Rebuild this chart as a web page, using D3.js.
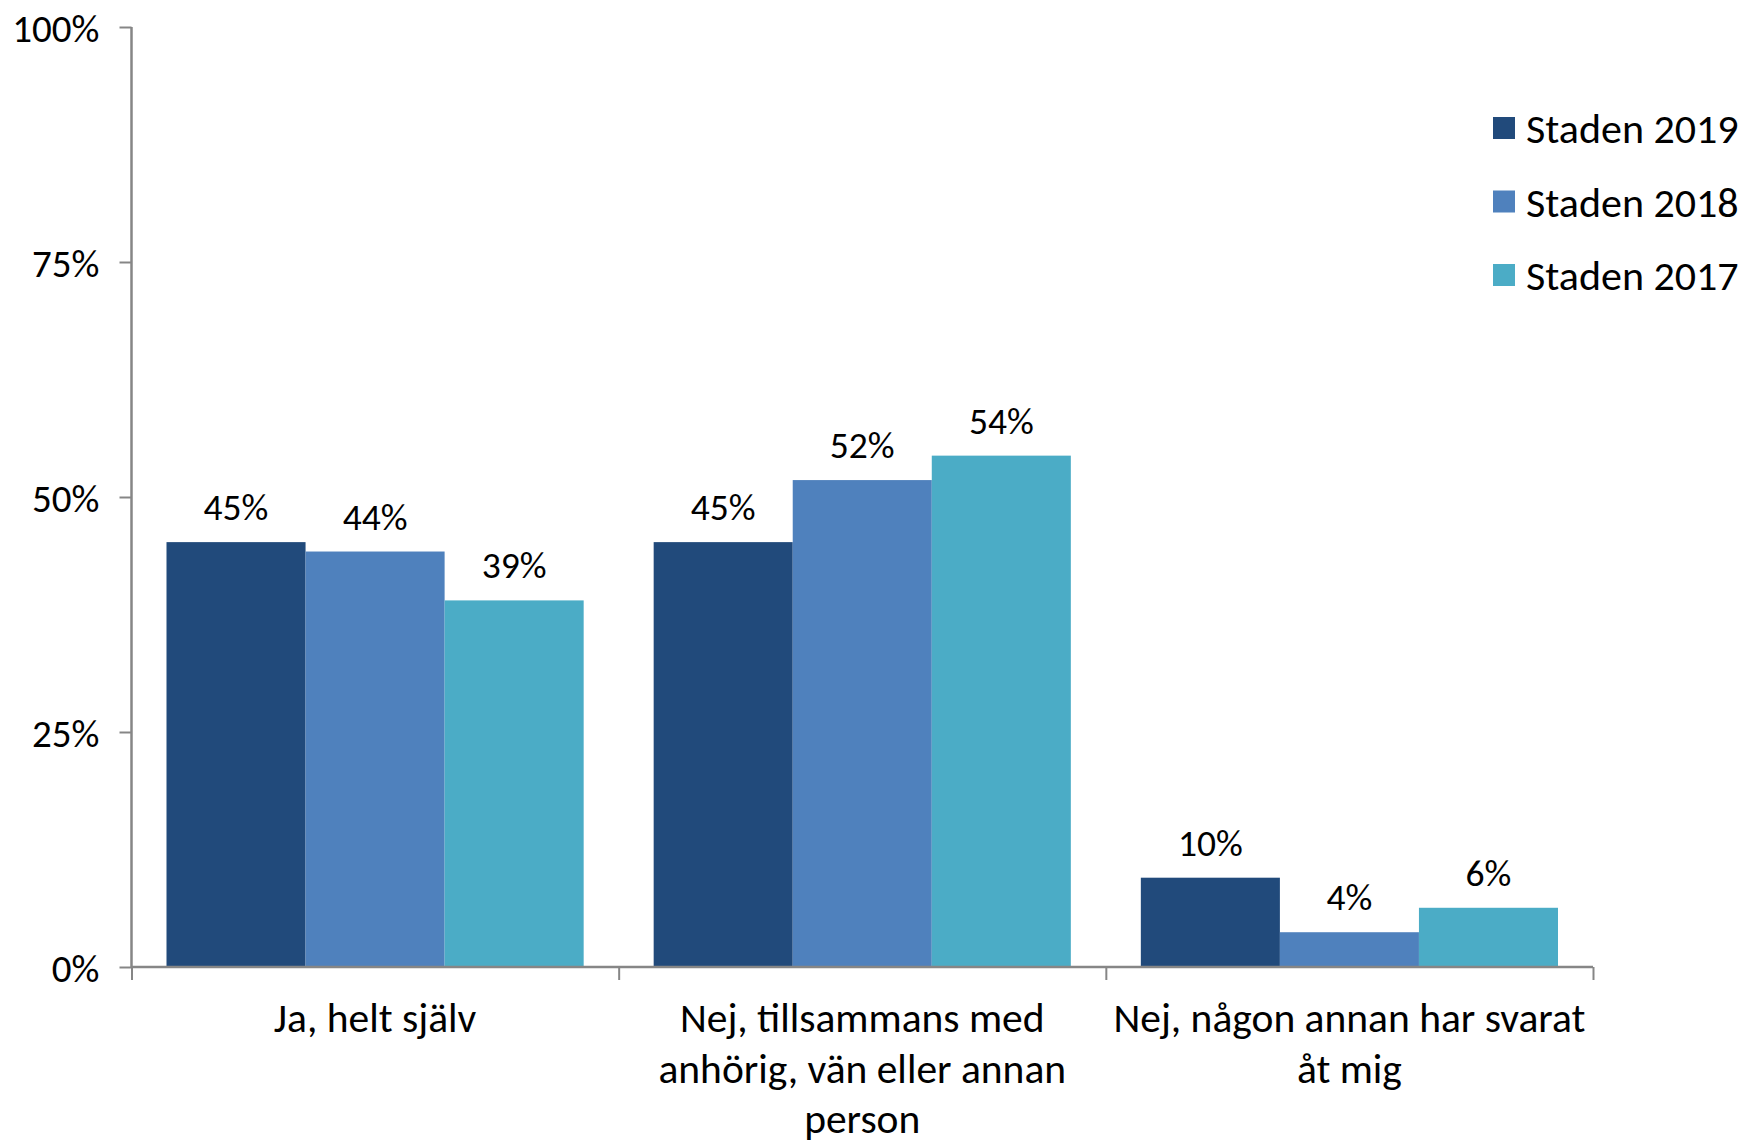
<!DOCTYPE html>
<html>
<head>
<meta charset="utf-8">
<script src="https://cdn.jsdelivr.net/npm/d3@7"></script>
<style>
  body { margin: 0; background: #fff; }
  text { font-family: Carlito, Calibri, Lato, sans-serif; fill: #000; }
</style>
</head>
<body>
<div id="chart"></div>
<script>
// data
var categories = ["Ja, helt själv", "Nej, tillsammans med anhörig, vän eller annan person", "Nej, någon annan har svarat åt mig"];
var seriesNames = ["Staden 2019", "Staden 2018", "Staden 2017"];
var staden2019 = [45.2, 45.2, 9.5];
var staden2018 = [44.2, 51.8, 3.7];
var staden2017 = [39.0, 54.4, 6.3];
var labels2019 = ["45%", "45%", "10%"];
var labels2018 = ["44%", "52%", "4%"];
var labels2017 = ["39%", "54%", "6%"];
var yTicks = [0, 25, 50, 75, 100];

var colors = ["#214a7b", "#4f81bd", "#4bacc6"];

// svg size
var svgWidth = 1747;
var svgHeight = 1145;

var margin = { top: 27, left: 131.5, right: 154, bottom: 178 };
var chartWidth = svgWidth - margin.left - margin.right;
var chartHeight = svgHeight - margin.top - margin.bottom;

var svg = d3.select("#chart").append("svg")
    .attr("width", svgWidth)
    .attr("height", svgHeight);

var chartGroup = svg.append("g")
    .attr("transform", `translate(${margin.left}, ${margin.top})`);

// scales
var x0 = d3.scaleBand()
    .domain(categories)
    .range([0, chartWidth])
    .padding(0);

var x1 = d3.scaleBand()
    .domain(seriesNames)
    .range([35, x0.bandwidth() - 35])
    .padding(0);

var yScale = d3.scaleLinear()
    .domain([0, 100])
    .range([chartHeight, 0]);

// rows for each category
var rows = categories.map(function(c, i) {
    return {
        cat: c,
        values: [
            { name: seriesNames[0], value: staden2019[i], label: labels2019[i], color: colors[0] },
            { name: seriesNames[1], value: staden2018[i], label: labels2018[i], color: colors[1] },
            { name: seriesNames[2], value: staden2017[i], label: labels2017[i], color: colors[2] }
        ]
    };
});

// bars
var groups = chartGroup.selectAll(".group").data(rows).enter()
    .append("g")
    .attr("class", "group")
    .attr("transform", d => `translate(${x0(d.cat)}, 0)`);

groups.selectAll("rect").data(d => d.values).enter()
    .append("rect")
    .attr("x", d => x1(d.name))
    .attr("y", d => yScale(d.value))
    .attr("width", x1.bandwidth())
    .attr("height", d => chartHeight - yScale(d.value))
    .attr("fill", d => d.color);

groups.selectAll(".val").data(d => d.values).enter()
    .append("text")
    .attr("class", "val")
    .attr("x", d => x1(d.name) + x1.bandwidth() / 2)
    .attr("y", d => yScale(d.value) - 22)
    .attr("text-anchor", "middle")
    .attr("font-size", "37.5px")
    .text(d => d.label);

// y axis
var yAxis = d3.axisLeft(yScale)
    .tickValues(yTicks)
    .tickFormat(d => d + "%")
    .tickSize(12)
    .tickPadding(20);

var yG = chartGroup.append("g").call(yAxis);
yG.selectAll("text").attr("font-size", "39px").attr("font-family", null).attr("dy", "0.36em");

// x axis: ticks at category boundaries
var xEdges = d3.scaleLinear().domain([0, categories.length]).range([0, chartWidth]);
var xAxis = d3.axisBottom(xEdges)
    .tickValues(d3.range(categories.length + 1))
    .tickFormat("")
    .tickSize(13);

var xG = chartGroup.append("g")
    .attr("transform", `translate(0, ${chartHeight})`)
    .call(xAxis);

[yG, xG].forEach(function(g) {
    g.select(".domain").attr("stroke", "#868686").attr("stroke-width", 2.5);
    g.selectAll(".tick line").attr("stroke", "#868686").attr("stroke-width", 2);
});
yG.select(".domain").attr("d", `M0,0V${chartHeight}`);
xG.select(".domain").attr("d", `M0,0H${chartWidth}`);

// category labels, wrapped to the band
var catText = chartGroup.selectAll(".cat").data(categories).enter()
    .append("text")
    .attr("class", "cat")
    .attr("text-anchor", "middle")
    .attr("font-size", "41.5px")
    .attr("x", d => x0(d) + x0.bandwidth() / 2)
    .attr("y", chartHeight + 65);

catText.each(function(d) {
    var el = d3.select(this);
    var words = d.split(" ");
    var maxW = x0.bandwidth() - 4;
    var line = [];
    var tspan = el.append("tspan").attr("x", el.attr("x")).attr("dy", 0);
    words.forEach(function(w) {
        line.push(w);
        tspan.text(line.join(" "));
        if (tspan.node().getComputedTextLength() > maxW && line.length > 1) {
            line.pop();
            tspan.text(line.join(" "));
            line = [w];
            tspan = el.append("tspan").attr("x", el.attr("x")).attr("dy", "50.5px").text(w);
        }
    });
});

// legend
var legend = svg.append("g").attr("transform", "translate(1493, 128)");
var legendItems = legend.selectAll(".leg").data(seriesNames).enter()
    .append("g")
    .attr("transform", (d, i) => `translate(0, ${i * 73.5})`);

legendItems.append("rect")
    .attr("x", 0)
    .attr("y", -11)
    .attr("width", 22)
    .attr("height", 22)
    .attr("fill", (d, i) => colors[i]);

legendItems.append("text")
    .attr("x", 33)
    .attr("y", 0)
    .attr("dy", "0.36em")
    .attr("font-size", "42px")
    .text(d => d);
</script>
</body>
</html>
